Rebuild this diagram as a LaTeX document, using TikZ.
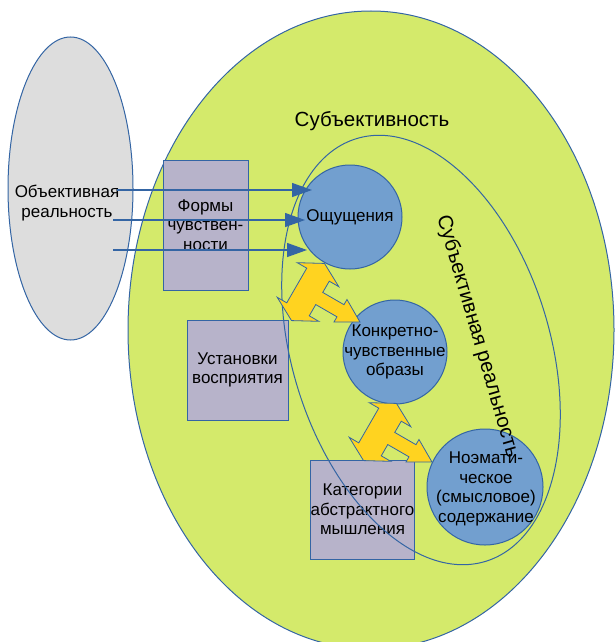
\documentclass[tikz,border=0pt]{standalone}
\usepackage{fontspec}
\setmainfont{Liberation Sans}
\usetikzlibrary{arrows.meta, calc, positioning}

\definecolor{lineblue}{HTML}{3465A4}
\definecolor{bggreen}{RGB}{212,234,107}
\definecolor{realgrey}{RGB}{221,221,221}
\definecolor{boxlilac}{RGB}{183,179,202}
\definecolor{circblue}{HTML}{729FCF}
\definecolor{boltyellow}{RGB}{255,211,32}

\begin{document}
\begin{tikzpicture}[x=1pt, y=-1pt, line width=1pt,
    lbl/.style={font=\fontsize{17}{19.5}\selectfont, align=center, inner sep=0pt},
    big/.style={font=\fontsize{20.5}{24}\selectfont, inner sep=0pt},
    filter/.style={lbl, draw=lineblue, fill=boxlilac},
    stage/.style={circle, draw=lineblue, fill=circblue, inner sep=0pt},
    flow/.style={draw=lineblue, line width=1.3pt, -{Triangle[length=20pt, width=14pt]}},
    twoway/.style={draw=lineblue, fill=boltyellow, line width=0.8pt}]
  \useasboundingbox (0,0) rectangle (615,642);

  % subjectivity and objective reality
  \draw[draw=lineblue, fill=bggreen] (371,330) ellipse [x radius=243, y radius=319];
  \draw[draw=lineblue, fill=realgrey] (70.5,188.5) ellipse [x radius=62.5, y radius=151.5];
  \node[lbl] (objtext) at (67,203) {Объективная\\реальность};
  \node[big] (subj) at (372,121) {Субъективность};

  \node[filter, minimum width=85pt, minimum height=130pt] at (205.5,225) (formy) {Формы\\чувствен-\\ности};
  \node[filter, minimum width=101pt, minimum height=100pt] at (237.5,370) (ustan) {Установки\\восприятия};
  \node[filter, minimum width=101pt, minimum height=99pt] at (362.5,509.5) (kateg) {Категории\\абстрактного\\мышления};

  \node[stage, minimum size=104pt] at (350,217) (oshch) {};
  \node[stage, minimum size=104pt] at (395,352) (obraz) {};
  \node[stage, minimum size=116pt] at (485,487) (noema) {};
  \node[lbl] at (oshch) {Ощущения};
  \node[lbl] at (obraz) {Конкретно-\\чувственные\\образы};
  \node[lbl] at ($(noema)+(1,2)$) {Ноэмати-\\ческое\\(смысловое)\\содержание};

  % subjective reality
  \draw[draw=lineblue, rotate around={-73:(421,350)}] (421,350) ellipse [x radius=221, y radius=129];
  \node[big, rotate=-73.7] (subjreal) at (477.5,336.5) {Субъективная реальность};

  \foreach \jx/\jy in {308/292, 380/432} { % two three-way arrows
    \draw[twoway, shift={(\jx,\jy)}, rotate=60]
      (33,0) -- (20,24) -- (20,13) -- (7,13) -- (7,37.5) -- (13,37.5) -- (0,60)
      -- (-13,37.5) -- (-7,37.5) -- (-7,13) -- (-20,13) -- (-20,24) -- (-33,0)
      -- (-20,-24) -- (-20,-13) -- (20,-13) -- (20,-24) -- cycle;
  };

  \coordinate (src1) at (117,190);
  \coordinate (src2) at (113,220);
  \coordinate (src3) at (113,250);
  \draw[flow] (src1) -- ($(src1 -| oshch.center)+(-38,0)$);
  \draw[flow] (src2) -- ($(src2 -| oshch.center)+(-45,0)$);
  \draw[flow] (src3) -- ($(src3 -| oshch.center)+(-43,0)$);
\end{tikzpicture}
\end{document}
